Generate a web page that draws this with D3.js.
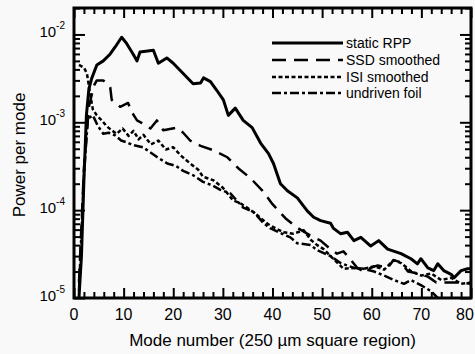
<!DOCTYPE html>
<html>
<head>
<meta charset="utf-8">
<script src="https://cdn.jsdelivr.net/npm/d3@7"></script>
<style>
  body { margin: 0; background: #f9f9f9; }
  text { font-family: "Liberation Sans", Arial, sans-serif; fill: #000; }
</style>
</head>
<body>
<script>
// mode number, power per mode
var staticRPP = [
  [1, 1e-5], [1.5, 3e-5], [2, 2.2e-4], [2.5, 1.2e-3], [3, 2.4e-3], [3.6, 3.2e-3],
  [4.6, 4.5e-3], [5.9, 5.0e-3], [7.3, 6.0e-3], [8.3, 7.2e-3], [9.6, 9.3e-3],
  [10.6, 7.9e-3], [11.9, 6.0e-3], [12.7, 5.0e-3], [13.3, 6.3e-3], [16, 6.6e-3],
  [17, 4.7e-3], [18.7, 5.4e-3], [20, 4.7e-3], [22, 3.6e-3], [24, 2.75e-3],
  [25.5, 2.8e-3], [26.1, 3.2e-3], [27.5, 2.9e-3], [28.8, 2.3e-3], [30.1, 1.8e-3],
  [31.1, 1.2e-3], [32.5, 1.45e-3], [34.1, 1.05e-3], [35.9, 8.7e-4], [37.6, 5.8e-4],
  [39.2, 4.4e-4], [40.2, 3.4e-4], [41.6, 2.0e-4], [43, 1.66e-4], [45, 1.38e-4],
  [47, 9.8e-5], [48.3, 8.3e-5], [49.7, 7.6e-5], [51.7, 7.1e-5], [52.3, 6.2e-5],
  [53.7, 5.4e-5], [55.1, 5.6e-5], [56.4, 4.5e-5], [57.8, 4.9e-5], [59.8, 3.9e-5],
  [61.4, 4.5e-5], [63.2, 3.6e-5], [65.9, 3.2e-5], [67.9, 2.8e-5], [69.2, 2.45e-5],
  [69.9, 2.8e-5], [71.3, 2.2e-5], [72.5, 2.05e-5], [73.3, 2.45e-5], [74.5, 2.05e-5],
  [76, 1.86e-5], [76.6, 1.7e-5], [78, 2.05e-5], [79.3, 2.15e-5], [80, 2.15e-5]
];

var ssdSmoothed = [
  [1, 1.5e-5], [2, 3e-4], [3, 1.5e-3], [4, 2.6e-3], [4.6, 3.0e-3], [5.9, 3.0e-3],
  [7.3, 2.5e-3], [7.6, 1.8e-3], [9.3, 1.5e-3], [10.9, 1.66e-3], [11.7, 1.29e-3],
  [12.7, 1.05e-3], [13.7, 9.8e-4], [15.4, 8.5e-4], [16.7, 1.05e-3], [18, 8.1e-4],
  [20.7, 8.7e-4], [22, 7.6e-4], [23.4, 6.2e-4], [25.5, 5.4e-4], [28.1, 4.8e-4],
  [30.9, 4.0e-4], [33.1, 3.0e-4], [35.6, 2.3e-4], [38, 1.66e-4], [40, 1.17e-4],
  [42.6, 8.1e-5], [45, 6.3e-5], [47.5, 5.2e-5], [49.7, 4.5e-5], [51.7, 3.6e-5],
  [53, 3.2e-5], [54.3, 3.4e-5], [55.6, 2.8e-5], [57.1, 2.2e-5], [58.4, 2.0e-5],
  [59.8, 2.2e-5], [61.2, 2.35e-5], [63.2, 2.2e-5], [64.4, 2.7e-5], [65.9, 2.55e-5],
  [67.3, 2.0e-5], [69.3, 1.9e-5], [71.3, 1.75e-5], [73, 1.5e-5], [75, 1.5e-5],
  [78, 1.5e-5], [80, 1.45e-5]
];

var isiSmoothed = [
  [1, 4.5e-3], [2, 4.2e-3], [2.6, 3.6e-3], [3.2, 2.2e-3], [3.8, 1.4e-3], [4.6, 1.2e-3],
  [5.6, 1.05e-3], [6.6, 9.0e-4], [7.6, 8.1e-4], [8.6, 7.4e-4], [9.8, 8.5e-4],
  [11, 7.0e-4], [12, 8.0e-4], [13, 6.4e-4], [14, 7.2e-4], [15.5, 5.6e-4],
  [17, 6.2e-4], [18.5, 4.9e-4], [20, 5.2e-4], [21.5, 4.2e-4], [23.4, 3.4e-4],
  [25, 2.9e-4], [26, 2.4e-4], [28, 2.2e-4], [30, 1.8e-4], [32, 1.3e-4],
  [33.5, 1.2e-4], [35.6, 1.0e-4], [37, 8.7e-5], [39, 7.0e-5], [40.2, 6.4e-5],
  [42.2, 5.6e-5], [44.2, 5.4e-5], [46.3, 5.9e-5], [47.7, 4.6e-5], [49, 4.0e-5],
  [50.3, 3.6e-5], [51.7, 3.0e-5], [54.3, 2.15e-5], [56.4, 2.2e-5], [58.4, 2.15e-5],
  [60.5, 2.3e-5], [62.5, 2.1e-5], [64.4, 2.7e-5], [65.9, 2.5e-5], [68, 2.0e-5],
  [70, 1.8e-5], [72, 1.9e-5], [74, 1.6e-5], [76, 1.7e-5], [78, 1.45e-5], [80, 1.5e-5]
];

var undrivenFoil = [
  [1, 1.2e-5], [2, 2.5e-4], [2.8, 1.1e-3], [3.8, 1.2e-3], [4.8, 9.1e-4], [5.9, 7.4e-4],
  [7, 7.6e-4], [8.3, 7.1e-4], [9.5, 6.2e-4], [10.7, 5.9e-4], [11.9, 5.5e-4],
  [13.9, 5.2e-4], [15.5, 4.5e-4], [16.8, 4.0e-4], [18.8, 3.4e-4], [20.5, 3.2e-4],
  [22, 2.8e-4], [24, 2.5e-4], [26, 2.1e-4], [28, 1.9e-4], [29.5, 1.7e-4],
  [31.5, 1.55e-4], [34.1, 1.07e-4], [36.2, 9.5e-5], [38.2, 7.1e-5], [39.6, 6.2e-5],
  [41.6, 5.5e-5], [43.6, 4.9e-5], [45, 4.2e-5], [47.7, 4.0e-5], [49, 3.5e-5],
  [51.7, 3.0e-5], [53.7, 2.5e-5], [56.4, 2.2e-5], [58.4, 2.15e-5], [60.5, 2.0e-5],
  [62.5, 1.8e-5], [64.5, 1.6e-5], [66.5, 1.45e-5], [67.9, 1.6e-5], [69.9, 1.4e-5],
  [71.9, 1.2e-5], [73.3, 1.0e-5]
];

var seriesNames = ["static RPP", "SSD smoothed", "ISI smoothed", "undriven foil"];
var xTicks = [0, 10, 20, 30, 40, 50, 60, 70, 80];
var yTickExps = [-5, -4, -3, -2];
var xTitle = "Mode number (250 \u00b5m square region)";
var yTitle = "Power per mode";

var W = 475, H = 354;
var mLeft = 74, mRight = 471, mTop = 8, mBottom = 298;

var svg = d3.select("body").append("svg")
  .attr("width", W)
  .attr("height", H);

var x = d3.scaleLinear().domain([0, 80]).range([mLeft, mRight]);
var y = d3.scaleLog().domain([1e-5, 0.02]).range([mBottom, mTop]);

// minor ticks
var xMinor = d3.range(0, 81, 2).filter(d => d % 10 != 0);
var yMinor = [];
yTickExps.forEach(e => {
  for (let k = 2; k <= 9; k++) {
    var v = k * Math.pow(10, e);
    if (v <= 0.02) yMinor.push(v);
  }
});
var yMajor = yTickExps.map(e => Math.pow(10, e));

function tickAxis(axis, vals, len, tx, ty) {
  var g = svg.append("g")
    .attr("transform", `translate(${tx},${ty})`)
    .call(axis.tickValues(vals).tickSize(-len).tickFormat(""));
  g.select(".domain").remove();
  g.selectAll(".tick line").attr("stroke", "#000").attr("stroke-width", 2);
}

tickAxis(d3.axisBottom(x), xTicks, 10, 0, mBottom);
tickAxis(d3.axisBottom(x), xMinor, 6, 0, mBottom);
tickAxis(d3.axisTop(x), xTicks, 10, 0, mTop);
tickAxis(d3.axisTop(x), xMinor, 6, 0, mTop);
tickAxis(d3.axisLeft(y), yMajor, 11, mLeft, 0);
tickAxis(d3.axisLeft(y), yMinor, 6, mLeft, 0);
tickAxis(d3.axisRight(y), yMajor, 11, mRight, 0);
tickAxis(d3.axisRight(y), yMinor, 6, mRight, 0);

// frame
svg.append("rect")
  .attr("x", mLeft).attr("y", mTop)
  .attr("width", mRight - mLeft).attr("height", mBottom - mTop)
  .attr("fill", "none").attr("stroke", "#000").attr("stroke-width", 3);

// x tick labels (last one kept inside the window)
svg.selectAll(".xlab").data(xTicks).enter().append("text")
  .attr("x", d => Math.min(x(d), W - 10))
  .attr("y", 320)
  .attr("text-anchor", "middle")
  .attr("font-size", 16)
  .text(d => d);

// y tick labels 10^e
yTickExps.forEach(e => {
  var t = svg.append("text")
    .attr("x", 65)
    .attr("y", y(Math.pow(10, e)) + 3)
    .attr("text-anchor", "end")
    .attr("font-size", 15);
  t.append("tspan").text("10");
  t.append("tspan").attr("font-size", 10).attr("dy", -8).text("-" + Math.abs(e));
});

// titles
svg.append("text")
  .attr("x", (mLeft + mRight) / 2)
  .attr("y", 346)
  .attr("text-anchor", "middle")
  .attr("font-size", 17)
  .text(xTitle);

svg.append("text")
  .attr("transform", `translate(25,${(mTop + mBottom) / 2 + 2}) rotate(-90)`)
  .attr("text-anchor", "middle")
  .attr("font-size", 17)
  .text(yTitle);

// curves
var line = d3.line().x(d => x(d[0])).y(d => y(d[1]));
var allSeries = [staticRPP, ssdSmoothed, isiSmoothed, undrivenFoil];
var dashes = [null, "14,8", "4,2.5", "9,3,3,3"];
var widths = [3, 2.5, 2.5, 2.5];

var plot = svg.append("g");
allSeries.forEach((s, i) => {
  plot.append("path")
    .attr("d", line(s))
    .attr("fill", "none")
    .attr("stroke", "#000")
    .attr("stroke-width", widths[i])
    .attr("stroke-linejoin", "round")
    .attr("stroke-dasharray", dashes[i]);
});

// legend
var legY = [43, 60, 77, 93];
var lg = svg.append("g");
seriesNames.forEach((n, i) => {
  lg.append("line")
    .attr("x1", 272).attr("x2", 343)
    .attr("y1", legY[i]).attr("y2", legY[i])
    .attr("stroke", "#000")
    .attr("stroke-width", widths[i])
    .attr("stroke-dasharray", dashes[i]);
  lg.append("text")
    .attr("x", 346)
    .attr("y", legY[i])
    .attr("dy", "0.35em")
    .attr("font-size", 14)
    .text(n);
});
</script>
</body>
</html>
